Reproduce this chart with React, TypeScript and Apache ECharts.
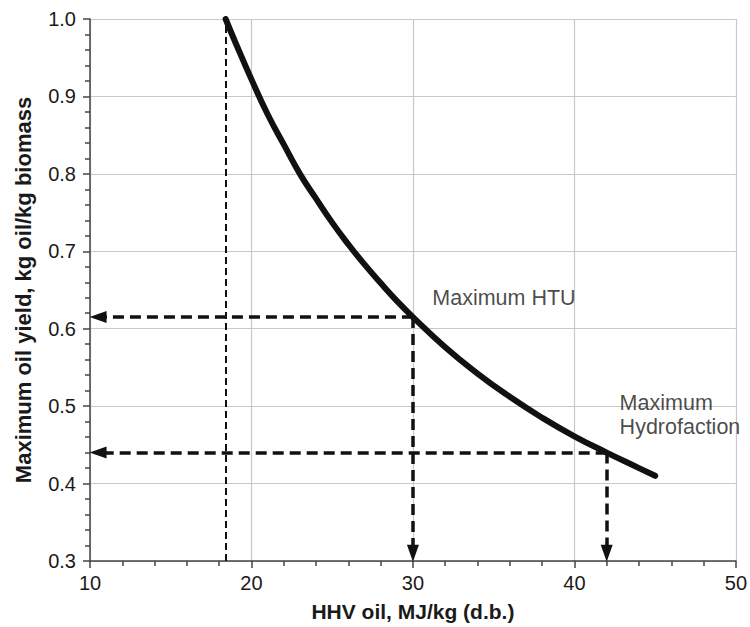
import React, { useEffect, useRef } from "react";
import * as echarts from "echarts";

const hhvOil = [18.4, 19, 20, 21, 22, 23, 24, 25, 26, 27, 28, 29, 30, 32, 34, 36, 38, 40, 42, 44, 45];
const oilYield = [1.0, 0.97, 0.922, 0.877, 0.838, 0.8, 0.768, 0.737, 0.709, 0.683, 0.659, 0.636, 0.615, 0.576, 0.542, 0.512, 0.485, 0.461, 0.44, 0.42, 0.41];
const biomassHHV = 18.4;
const htuPoint = [30, 0.615];
const hydroPoint = [42, 0.44];
const annotations = [
  { name: "Maximum HTU", value: [31.2, 0.64] },
  { name: "Maximum\nHydrofaction", value: [42.8, 0.488] },
];
const xTicks = { min: 10, max: 50, interval: 10 };
const yTicks = { min: 0.3, max: 1.0, interval: 0.1 };

const FONT = "'Liberation Sans', Arial, Helvetica, sans-serif";

export default function App() {
  const ref = useRef<HTMLDivElement>(null);
  useEffect(() => {
    document.body.style.margin = "0";
    document.body.style.overflow = "hidden";
    if (!ref.current) return;
    const chart = echarts.init(ref.current, null, { renderer: "svg" });
    const dashArrow = { type: [11, 6], width: 3.5, color: "#111" };
    const arrowEnd = { symbol: "triangle", symbolSize: [12, 17] };
    chart.setOption({
      animation: false,
      backgroundColor: "#fff",
      textStyle: { fontFamily: FONT },
      grid: { left: 90, right: 12, top: 19, bottom: 62, containLabel: false },
      xAxis: {
        type: "value",
        min: xTicks.min,
        max: xTicks.max,
        interval: xTicks.interval,
        name: "HHV oil, MJ/kg (d.b.)",
        nameLocation: "middle",
        nameGap: 40,
        nameTextStyle: { fontFamily: FONT, fontSize: 21, fontWeight: "bold", color: "#1a1a1a" },
        axisLine: { lineStyle: { color: "#444", width: 1.5 } },
        axisTick: { show: true, length: 7, lineStyle: { color: "#444", width: 1.5 } },
        minorTick: { show: true, splitNumber: 5, length: 5, lineStyle: { color: "#444", width: 1.5 } },
        axisLabel: { fontFamily: FONT, fontSize: 20, color: "#1a1a1a", margin: 12 },
        splitLine: { show: true, lineStyle: { color: "#c8c8c8", width: 1.2 } },
      },
      yAxis: {
        type: "value",
        min: yTicks.min,
        max: yTicks.max,
        interval: yTicks.interval,
        name: "Maximum oil yield, kg oil/kg biomass",
        nameLocation: "middle",
        nameGap: 56,
        nameTextStyle: { fontFamily: FONT, fontSize: 22, fontWeight: "bold", color: "#1a1a1a" },
        axisLine: { show: true, lineStyle: { color: "#444", width: 1.5 } },
        axisTick: { show: true, length: 7, lineStyle: { color: "#444", width: 1.5 } },
        minorTick: { show: true, splitNumber: 5, length: 5, lineStyle: { color: "#444", width: 1.5 } },
        axisLabel: {
          fontFamily: FONT,
          fontSize: 20,
          color: "#1a1a1a",
          margin: 14,
          formatter: (v: number) => v.toFixed(1),
        },
        splitLine: { show: true, lineStyle: { color: "#c8c8c8", width: 1.2 } },
      },
      series: [
        {
          type: "line",
          data: hhvOil.map((x, i) => [x, oilYield[i]]),
          smooth: true,
          showSymbol: false,
          lineStyle: { color: "#111", width: 6, cap: "round" },
          z: 5,
          markLine: {
            silent: true,
            animation: false,
            label: { show: false },
            emphasis: { disabled: true },
            data: [
              [
                { coord: [biomassHHV, yTicks.min], symbol: "none", lineStyle: { type: [7, 4], width: 2, color: "#111" } },
                { coord: [biomassHHV, yTicks.max], symbol: "none" },
              ],
              [
                { coord: htuPoint, symbol: "none", lineStyle: dashArrow },
                { coord: [10.5, htuPoint[1]], ...arrowEnd },
              ],
              [
                { coord: htuPoint, symbol: "none", lineStyle: dashArrow },
                { coord: [htuPoint[0], 0.31], ...arrowEnd },
              ],
              [
                { coord: hydroPoint, symbol: "none", lineStyle: dashArrow },
                { coord: [10.5, hydroPoint[1]], ...arrowEnd },
              ],
              [
                { coord: hydroPoint, symbol: "none", lineStyle: dashArrow },
                { coord: [hydroPoint[0], 0.31], ...arrowEnd },
              ],
            ],
            itemStyle: { color: "#111" },
            lineStyle: { color: "#111" },
          },
        },
        {
          type: "scatter",
          data: annotations.map((a) => ({ name: a.name, value: a.value })),
          symbolSize: 0,
          silent: true,
          label: {
            show: true,
            position: [0, 0],
            align: "left",
            verticalAlign: "middle",
            formatter: (p: any) => p.name,
            fontFamily: FONT,
            fontSize: 21.5,
            lineHeight: 24,
            color: "#1a1a1a",
          },
          z: 6,
        },
      ],
    });
    return () => chart.dispose();
  }, []);
  return <div ref={ref} style={{ width: 750, height: 627 }} />;
}
